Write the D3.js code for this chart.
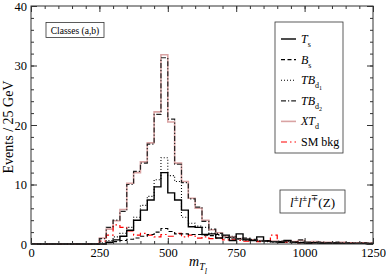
<!DOCTYPE html>
<html>
<head>
<meta charset="utf-8">
<script src="https://cdn.jsdelivr.net/npm/d3@7"></script>
<style>
  body { margin: 0; background: #fff; }
  svg text { font-family: "Liberation Serif", "DejaVu Serif", serif; fill: #000; }
</style>
</head>
<body>
<div id="root"></div>
<script>
// lower edges of the 25 GeV bins (everything below 250 is empty)
var binLow = [250, 275, 300, 325, 350, 375, 400, 425, 450, 475,
    500, 525, 550, 575, 600, 625, 650, 675, 700, 725,
    750, 775, 800, 825, 850, 875, 900, 925, 950, 975,
    1000, 1025, 1050, 1075, 1100, 1125, 1150, 1175, 1200, 1225];

var xtd = [1.0, 2.5, 3.9, 5.8, 10.2, 12.0, 13.8, 17.0, 22.2, 31.8,
    20.5, 13.6, 10.5, 7.7, 6.0, 4.0, 2.4, 1.9, 1.3, 1.2,
    0.9, 0.8, 0.7, 0.6, 0.5, 0.5, 0.4, 0.5, 0.4, 0.6,
    0.3, 0.4, 0.3, 0.3, 0.2, 0.3, 0.2, 0.2, 0.2, 0.1];
var tbd2 = [0.9, 2.8, 4.0, 5.5, 10.0, 12.2, 13.6, 16.8, 21.8, 31.3,
    21.0, 13.4, 10.3, 7.6, 6.2, 3.8, 2.5, 1.8, 1.4, 1.1,
    0.9, 0.7, 0.8, 0.5, 0.5, 0.4, 0.5, 0.4, 0.3, 0.7,
    0.3, 0.3, 0.3, 0.2, 0.3, 0.2, 0.2, 0.1, 0.2, 0.1];
var tbd1 = [0.2, 0.6, 1.2, 1.8, 2.8, 4.5, 6.5, 8.0, 10.8, 14.5,
    11.5, 10.5, 4.5, 3.5, 3.0, 2.8, 1.8, 1.5, 1.0, 1.3,
    0.8, 0.6, 0.7, 0.5, 0.4, 0.3, 0.4, 0.3, 0.2, 0.3,
    0.2, 0.2, 0.1, 0.2, 0.1, 0.1, 0.1, 0.1, 0.1, 0.0];
var ts = [0.0, 0.3, 0.7, 1.3, 2.3, 4.0, 5.7, 7.4, 9.6, 12.0,
    8.6, 7.4, 5.7, 2.9, 2.8, 1.6, 1.7, 1.0, 1.5, 0.6,
    1.7, 0.8, 0.6, 1.2, 0.5, 0.4, 0.3, 0.6, 0.3, 0.2,
    0.1, 0.2, 0.1, 0.1, 0.1, 0.1, 0.1, 0.1, 0.1, 0.1];
var bs = [0.0, 0.2, 0.4, 0.6, 0.8, 1.0, 1.3, 1.6, 2.0, 2.6,
    2.1, 1.7, 1.7, 1.6, 1.6, 1.5, 1.4, 1.6, 1.1, 1.0,
    0.9, 1.0, 0.7, 0.5, 0.6, 0.4, 0.4, 0.5, 0.3, 0.3,
    0.2, 0.2, 0.2, 0.2, 0.2, 0.1, 0.1, 0.1, 0.1, 0.1];
var smbkg = [0.5, 1.5, 3.2, 2.8, 2.2, 1.5, 1.8, 1.5, 1.2, 1.6,
    1.3, 1.8, 1.2, 1.5, 1.0, 1.2, 0.9, 1.0, 0.7, 0.8,
    0.6, 0.5, 0.6, 0.4, 0.5, 1.5, 0.4, 0.3, 0.3, 0.2,
    0.2, 0.2, 0.1, 0.1, 0.1, 0.1, 0.1, 0.1, 0.1, 0.1];

var xTicks = [0, 250, 500, 750, 1000, 1250];
var yTicks = [0, 10, 20, 30, 40];

var W = 386, H = 278;
var margin = {left: 31, right: 13, top: 6, bottom: 34};

var svg = d3.select("#root")
    .append("svg")
    .attr("width", W)
    .attr("height", H);

var x = d3.scaleLinear().domain([0, 1250]).range([margin.left, W - margin.right]);
var y = d3.scaleLinear().domain([0, 40]).range([H - margin.bottom, margin.top]);

// step outline for one series
function histPath(vals) {
    var pts = [[0, 0]];
    binLow.forEach(function (b, i) { pts.push([b, vals[i]]); });
    pts.push([1250, vals[vals.length - 1]]);
    return d3.line()
        .x(function (d) { return x(d[0]); })
        .y(function (d) { return y(d[1]); })
        .curve(d3.curveStepAfter)(pts);
}

var series = [
    {vals: xtd, color: "#d9a3a3", width: 1.6, dash: null},
    {vals: smbkg, color: "#ff0000", width: 1.2, dash: "6,3,1.5,3"},
    {vals: bs, color: "#000", width: 1.1, dash: "4,2.5"},
    {vals: tbd1, color: "#000", width: 1.1, dash: "1,2"},
    {vals: ts, color: "#000", width: 1.4, dash: null},
    {vals: tbd2, color: "#222", width: 1.2, dash: "5,2,1.2,2"}
];

svg.selectAll("path.hist")
    .data(series)
    .enter()
    .append("path")
    .attr("class", "hist")
    .attr("d", function (d) { return histPath(d.vals); })
    .attr("fill", "none")
    .attr("stroke", function (d) { return d.color; })
    .attr("stroke-width", function (d) { return d.width; })
    .attr("stroke-dasharray", function (d) { return d.dash; });

// frame
svg.append("rect")
    .attr("x", x(0)).attr("y", y(40))
    .attr("width", x(1250) - x(0)).attr("height", y(0) - y(40))
    .attr("fill", "none").attr("stroke", "#333").attr("stroke-width", 1);

// axes with inward ticks, mirrored on top and right
var majorX = 6, minorX = 3;
function addAxis(axis, tr) {
    var g = svg.append("g").attr("transform", tr).call(axis);
    g.select(".domain").remove();
    g.selectAll("line").attr("stroke", "#333");
    return g;
}
var xMinor = d3.range(0, 1251, 50);
var yMinor = d3.range(0, 41, 2);

addAxis(d3.axisBottom(x).tickValues(xMinor).tickSize(-minorX).tickFormat(""), "translate(0," + y(0) + ")");
addAxis(d3.axisTop(x).tickValues(xMinor).tickSize(-minorX).tickFormat(""), "translate(0," + y(40) + ")");
addAxis(d3.axisLeft(y).tickValues(yMinor).tickSize(-minorX).tickFormat(""), "translate(" + x(0) + ",0)");
addAxis(d3.axisRight(y).tickValues(yMinor).tickSize(-minorX).tickFormat(""), "translate(" + x(1250) + ",0)");

addAxis(d3.axisBottom(x).tickValues(xTicks).tickSize(-majorX).tickPadding(4).tickFormat(d3.format("d")), "translate(0," + y(0) + ")")
    .selectAll("text").attr("font-size", 12.5).attr("font-family", "Liberation Serif");
addAxis(d3.axisTop(x).tickValues(xTicks).tickSize(-majorX).tickFormat(""), "translate(0," + y(40) + ")");
addAxis(d3.axisLeft(y).tickValues(yTicks).tickSize(-majorX).tickPadding(4).tickFormat(d3.format("d")), "translate(" + x(0) + ",0)")
    .selectAll("text").attr("font-size", 12.5).attr("font-family", "Liberation Serif");
addAxis(d3.axisRight(y).tickValues(yTicks).tickSize(-majorX).tickFormat(""), "translate(" + x(1250) + ",0)");

// axis titles
svg.append("text")
    .attr("transform", "translate(13," + (y(20) + 2) + ") rotate(-90)")
    .attr("text-anchor", "middle")
    .attr("font-size", 14)
    .text("Events / 25 GeV");

var xl = svg.append("text").attr("x", 189).attr("y", 266).attr("font-size", 14).attr("font-style", "italic");
xl.append("tspan").text("m");
xl.append("tspan").attr("font-size", 10).attr("dy", 4).text("T");
xl.append("tspan").attr("font-size", 8).attr("dy", 4).text("l");

// "Classes (a,b)" box
svg.append("rect").attr("x", 46).attr("y", 22.5).attr("width", 58).attr("height", 15)
    .attr("fill", "#fff").attr("stroke", "#333").attr("stroke-width", 0.8);
svg.append("text").attr("x", 75).attr("y", 33.5).attr("text-anchor", "middle")
    .attr("font-size", 9.5).text("Classes (a,b)");

// channel label box
svg.append("rect").attr("x", 280).attr("y", 190).attr("width", 65).attr("height", 23)
    .attr("fill", "#fff").attr("stroke", "#333").attr("stroke-width", 0.8);
var ch = svg.append("text").attr("x", 312.5).attr("y", 207).attr("text-anchor", "middle")
    .attr("font-size", 13).attr("font-style", "italic");
ch.append("tspan").text("l");
ch.append("tspan").attr("font-size", 9).attr("dy", -6).attr("font-style", "normal").text("±");
ch.append("tspan").attr("dy", 6).text("l");
ch.append("tspan").attr("font-size", 9).attr("dy", -6).attr("font-style", "normal").text("±");
ch.append("tspan").attr("dy", 6).text("l");
ch.append("tspan").attr("font-size", 9).attr("dy", -6).attr("font-style", "normal").text("∓");
ch.append("tspan").attr("dy", 6).attr("font-style", "normal").text("(Z)");

// legend
var legendNames = [
    [["T", "i"], ["s", "sub"]],
    [["B", "i"], ["s", "sub"]],
    [["TB", "i"], ["d", "sub"], ["1", "subsub"]],
    [["TB", "i"], ["d", "sub"], ["2", "subsub"]],
    [["XT", "i"], ["d", "sub"]],
    [["SM bkg", "r"]]
];
var legendStyle = [series[4], series[2], series[3], series[5], series[0], series[1]];

svg.append("rect").attr("x", 275).attr("y", 22).attr("width", 68).attr("height", 131)
    .attr("fill", "#fff").attr("stroke", "#333").attr("stroke-width", 0.8);

legendNames.forEach(function (parts, i) {
    var ly = 39 + i * 20.6;
    var s = legendStyle[i];
    svg.append("line").attr("x1", 281).attr("x2", 296).attr("y1", ly).attr("y2", ly)
        .attr("stroke", s.color).attr("stroke-width", s.width)
        .attr("stroke-dasharray", s.dash);
    var t = svg.append("text").attr("x", 301).attr("y", ly + 4).attr("font-size", 12);
    parts.forEach(function (p) {
        var sp = t.append("tspan").text(p[0]);
        if (p[1] === "i") sp.attr("font-style", "italic");
        if (p[1] === "sub") sp.attr("font-size", 8).attr("dy", 4);
        if (p[1] === "subsub") sp.attr("font-size", 6).attr("dy", 2);
    });
});
</script>
</body>
</html>
